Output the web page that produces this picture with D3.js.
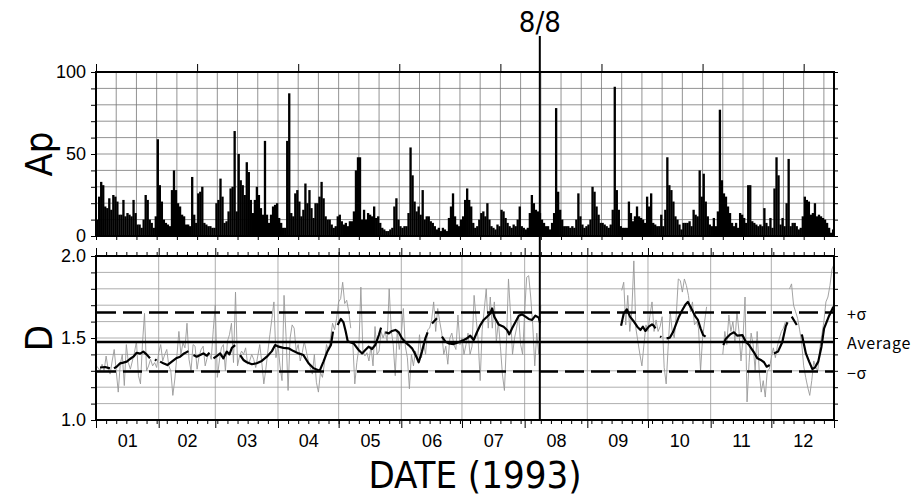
<!DOCTYPE html>
<html>
<head>
<meta charset="utf-8">
<script src="https://cdn.jsdelivr.net/npm/d3@7"></script>
<style>
  body { margin: 0; background: #fff; }
  svg { display: block; }
  .narrow { font-family: "Liberation Sans Narrow", "DejaVu Sans Condensed", "Liberation Sans", sans-serif; }
  .ticklab { font-family: "Liberation Sans", Arial, sans-serif; }
</style>
</head>
<body>
<div id="chart"></div>
<script>
// daily Ap index, 1993 (day 0 = Jan 1)
var apJanMay = [
  10,24,33,31,18,17,23,16,25,24, 21,13,13,22,12,14,13,12,22,14,
  7,7,5,10,25,22,10,8,5,12, 59,31,21,10,8,7,6,28,40,28,
  20,18,13,12,7,7,6,36,13,8, 26,27,30,8,7,6,6,5,5,20,
  22,35,24,8,9,15,29,30,64,15, 50,34,31,25,45,39,22,14,22,30,
  25,17,13,58,13,8,13,18,19,20, 11,8,5,5,58,87,14,12,26,28,
  21,12,16,32,20,28,17,11,20,20, 24,33,23,12,10,10,7,5,6,12,
  13,9,7,8,6,9
]
var apMaySep = [
  9,15,40,48,48,10,16,10,14,13, 12,18,11,12,8,5,4,3,3,4,
  5,18,23,10,6,5,6,6,14,54, 37,21,15,18,13,28,10,12,12,9,
  8,6,4,5,3,5,4,3,11,18, 26,12,7,6,10,12,22,29,22,18,
  8,5,6,10,14,15,12,20,10,6, 5,4,7,6,16,15,11,8,
  6,5,7,6,10,18,6,5,4,5, 14,25,20,16,15,14,10,8,6,6,
  4,8,14,78,27,16,10,6,6,6, 5,6,5,10,26,12,7,5,6,7,
  10,30,27,18,13
]
var apSepDec = [
  8,8,7,6,5,7,16,91,28,16, 6,5,5,5,21,14,9,12,18,12,
  11,10,8,24,18,26,8,7,6,6, 13,6,16,48,31,28,21,12,10,7,
  4,8,8,8,9,6,16,13,12,40, 24,38,21,12,7,6,11,6,15,77,
  34,26,24,18,14,8,6,8,5,14, 13,11,8,31,31,9,8,7,6,7,
  6,17,8,6,11,5,29,48,37,7, 11,6,20,47,6,8,8,6,4,5,
  12,24,22,21,13,14,20,12,13,12, 11,10,8,5,2,4
]
var apValues = apJanMay.concat(apMaySep, apSepDec)

// daily D (thin grey line), runs start at these days
var grayStart = [0, 127, 260, 310, 343]
var grayJanMay = [
  1.33,1.32,1.30,1.34,1.30,1.39,1.31,1.28,1.36,1.43, 1.30,1.17,1.34,1.40,1.21,1.46,1.35,1.31,1.36,1.41,
  1.48,1.27,1.22,1.47,1.65,1.30,1.33,1.37,1.33,1.35, 1.32,1.41,1.46,1.36,1.40,1.43,1.33,1.30,1.15,1.25,
  1.39,1.54,1.40,1.47,1.44,1.59,1.37,1.30,1.46,1.45, 1.31,1.39,1.43,1.45,1.33,1.38,1.41,1.37,1.55,1.70,
  1.26,1.36,1.44,1.46,1.30,1.48,1.52,1.59,1.35,1.78, 1.33,1.39,1.42,1.40,1.44,1.34,1.36,1.40,1.37,1.32,
  1.39,1.46,1.35,1.22,1.31,1.42,1.52,1.62,1.72,1.38, 1.46,1.33,1.24,1.76,1.51,1.18,1.50,1.58,1.56,1.42,
  1.46,1.36,1.41,1.48,1.42,1.36,1.32,1.28,1.40,1.23, 1.17,1.29,1.26,1.35,1.46,1.42,1.50,1.59,1.55,1.62,
  1.72,1.74,1.84,1.71,1.73,1.66,1.56
]
var grayMayAug = [
  1.47,1.22,1.35,1.44,1.81,1.42,1.39,1.41,1.36,1.45, 1.33,1.57,1.40,1.42,1.54,1.50,1.54,1.48,1.80,1.55,
  1.46,1.27,1.55,1.43,1.52,1.68,1.45,1.38,1.19,1.40, 1.33,1.42,1.36,1.52,1.38,1.47,1.40,1.55,1.56,1.61,
  1.72,1.54,1.68,1.60,1.53,1.40,1.45,1.34,1.50,1.53, 1.46,1.43,1.64,1.46,1.50,1.40,1.46,1.53,1.40,1.45,
  1.76,1.62,1.49,1.24,1.55,1.67,1.80,1.56,1.75,1.56, 1.72,1.48,1.60,1.45,1.28,1.18,1.47,1.86,1.65,1.40,
  1.50,1.56,1.64,1.46,1.40,1.66,1.87,1.88,1.75,1.58, 1.33,1.53,1.40,1.70
]
var graySepOct = [
  1.79,1.84,1.58,1.76,1.54,1.66,1.97,1.56,1.48,1.40, 1.33,1.46,1.58,1.54,1.64,1.72,1.54,1.61,1.54,1.57,
  1.63,1.32,1.22,1.45,1.66,1.54,1.50,1.64,1.86,1.85, 1.78,1.86,1.82,1.76,1.66,1.72,1.58,1.60,1.56,1.30,
  1.50,1.60,1.69
]
var grayNov = [
  1.40,1.54,1.46,1.64,1.54,1.60,1.48,1.66,1.54,1.36, 1.50,1.75,1.11,1.35,1.53,1.46,1.30,1.54,1.30,1.17,
  1.24,1.14,1.30,1.31,1.38,1.44,1.38,1.45,1.50,1.54, 1.56,1.60
]
var grayDec = [
  1.80,1.83,1.70,1.66,1.62,1.55,1.47,1.33,1.26,1.20, 1.15,1.24,1.36,1.32,1.30,1.44,1.52,1.60,1.72,1.75,
  1.82,1.92,1.95
]
var grayRuns = [grayJanMay, grayMayAug, graySepOct, grayNov, grayDec]

// running mean of D (thick black line), null = break
var smoothDay = [
  2,4.5,6.9, null,
  8.9,10.2,11.9,13.5,15.2,16.8,18.5,20.1,21.8,23.4,25,26.7, null,
  29.2,29.9, null,
  31.7,33.3,35.3,37.5,39.6,41.6,43.6,45.7, null,
  48.2,49.8,51.5,53.1,54.8,56.1, null,
  58.1,59.7,61.4,63,64.7,66,67.2,68.8, null,
  71.3,72.9,74.6,77.1,79.5,82,84.5,87,88.6,90.3,92.7,95.2,97.7,100.2,102.6,105.1,107.6,110.6,112.5,114.5,116.2,117.2, null,
  119.5,121.1,122.4,123.5,124.5,125.7,127.4,129.9,131.6,133.2,134.8,136.5,138.1,139.9,141, null,
  143.1,144.8,146.4,148.1,149.7,151.3,153,154.6,156.3,157.4,158.8,159.6,161.2,162.9,164, null,
  166.2,168.6, null,
  171.1,172.8,174.4,176.9,179.4,181.9,183.5,185.1,186.8,188.4,190.1,191.7,193.4,195,195.9,197,199.1,201.6,203.3,204.4,205.8,207.4,209.1,210.7,212.4,214,215.7,217.3,219,219.6, null,
  259.7,261,262.6,264.1,265.8,267.7,269.3,270.5,271.7,273.4,275,275.8,276.7, null,
  279,279.6, null,
  282.2,283.8,285.5,286.7,288.3,290,291.6,292.7,294,296.5,297.7,299,300.3,301.5, null,
  310.3,311.4,313.6,315.5,317.2,319.7,321.3,323,325.4,327.1,328.8,330.4,331.7,333.2, null,
  335.3,337.3,339.4,341.1,342, null,
  344.1,346.6, null,
  349.1,351.1,352.7,354.3,355.5,357.2,358.8,360.1,362.6,364.7
]
var smoothD = [
  1.32,1.323,1.315, null,
  1.315,1.325,1.345,1.35,1.356,1.372,1.386,1.41,1.405,1.417,1.40,1.376, null,
  1.37,1.362, null,
  1.356,1.346,1.335,1.356,1.376,1.386,1.406,1.42, null,
  1.396,1.386,1.396,1.406,1.392,1.41, null,
  1.376,1.39,1.406,1.376,1.417,1.40,1.44,1.457, null,
  1.396,1.366,1.352,1.34,1.346,1.36,1.386,1.42,1.457,1.447,1.44,1.437,1.42,1.406,1.396,1.346,1.315,1.30,1.356,1.42,1.457,1.539, null,
  1.579,1.616,1.595,1.54,1.48,1.474,1.467,1.427,1.406,1.427,1.447,1.433,1.457,1.518,1.563, null,
  1.535,1.528,1.543,1.549,1.535,1.498,1.474,1.457,1.437,1.413,1.376,1.352,1.417,1.498,1.535, null,
  1.589,1.62, null,
  1.508,1.478,1.467,1.463,1.474,1.488,1.498,1.514,1.488,1.535,1.579,1.61,1.63,1.65,1.68,1.63,1.583,1.569,1.549,1.522,1.559,1.596,1.636,1.644,1.63,1.616,1.61,1.636,1.624,1.593, null,
  1.575,1.65,1.675,1.63,1.604,1.569,1.549,1.569,1.543,1.569,1.583,1.575,1.559, null,
  1.51,1.505, null,
  1.498,1.502,1.539,1.579,1.63,1.671,1.705,1.72,1.69,1.63,1.61,1.559,1.518,1.508, null,
  1.457,1.494,1.522,1.535,1.514,1.518,1.478,1.457,1.413,1.376,1.366,1.352,1.325,1.335, null,
  1.406,1.417,1.474,1.569,1.596, null,
  1.63,1.579, null,
  1.522,1.406,1.356,1.31,1.319,1.356,1.447,1.559,1.636,1.69
]

var dAverage = 1.475
var dSigma = 0.18
var eventDay = 219.5   // 8/8
var eventLabel = "8/8"

var monthStarts = [0,31,59,90,120,151,181,212,243,273,304,334,365]
var monthLabels = ["01","02","03","04","05","06","07","08","09","10","11","12"]
var apTicks = [0,10,20,30,40,50,60,70,80,90,100]
var dTicks = [1.0,1.1,1.2,1.3,1.4,1.5,1.6,1.7,1.8,1.9,2.0]
var sigmaLabels = ["+σ", "Average", "−σ"]

var width = 911, height = 496
var svg = d3.select("#chart").append("svg")
    .attr("width", width)
    .attr("height", height)

var x = d3.scaleLinear().domain([0, 365]).range([96, 834])
var yAp = d3.scaleLinear().domain([0, 100]).range([236, 72])
var yD = d3.scaleLinear().domain([1, 2]).range([420, 256])

function cleanAxis(g) {
  g.select(".domain").remove()
  g.selectAll(".tick line").attr("stroke", "#000").attr("stroke-width", 1)
  g.selectAll("text").attr("class", "ticklab").attr("font-size", 18).attr("fill", "#000")
}

// ---------- Ap panel ----------
var apPanel = svg.append("g")

apPanel.selectAll(".vgrid").data(d3.range(10, 365, 10))
  .enter().append("line")
    .attr("x1", function(d) { return x(d) }).attr("x2", function(d) { return x(d) })
    .attr("y1", yAp(100)).attr("y2", yAp(0))
    .attr("stroke", "#777").attr("stroke-width", 0.8)
apPanel.selectAll(".hgrid").data(apTicks.slice(1, -1))
  .enter().append("line")
    .attr("x1", x(0)).attr("x2", x(365))
    .attr("y1", function(d) { return yAp(d) }).attr("y2", function(d) { return yAp(d) })
    .attr("stroke", "#777").attr("stroke-width", 0.8)

apPanel.selectAll(".bar").data(apValues)
  .enter().append("rect")
    .attr("x", function(d, i) { return x(i) })
    .attr("width", function(d, i) { return x(i + 1) - x(i) + 0.3 })
    .attr("y", function(d) { return yAp(d) })
    .attr("height", function(d) { return yAp(0) - yAp(d) })
    .attr("fill", "#000")

apPanel.append("g").attr("transform", "translate(" + x(0) + ",0)")
  .call(d3.axisLeft(yAp).tickValues(apTicks).tickSize(5).tickPadding(5)
    .tickFormat(function(d) { return d % 50 === 0 ? d : "" }))
  .call(cleanAxis)
apPanel.append("g").attr("transform", "translate(" + x(365) + ",0)")
  .call(d3.axisRight(yAp).tickValues(apTicks).tickSize(4).tickFormat(""))
  .call(cleanAxis)
apPanel.append("g").attr("transform", "translate(0," + yAp(0) + ")")
  .call(d3.axisBottom(x).tickValues(d3.range(0, 366, 10)).tickSize(4).tickFormat(""))
  .call(cleanAxis)
apPanel.append("g").attr("transform", "translate(0," + yAp(100) + ")")
  .call(d3.axisTop(x).tickValues(d3.range(0, 366, 50)).tickSize(8).tickFormat(""))
  .call(cleanAxis)

apPanel.append("rect")
  .attr("x", x(0)).attr("y", yAp(100))
  .attr("width", x(365) - x(0)).attr("height", yAp(0) - yAp(100))
  .attr("fill", "none").attr("stroke", "#000").attr("stroke-width", 2)

apPanel.append("text").attr("class", "narrow")
  .attr("transform", "translate(52," + yAp(50) + ") rotate(-90)")
  .attr("text-anchor", "middle").attr("font-size", 38)
  .text("Ap")

// ---------- D panel ----------
var dPanel = svg.append("g")

dPanel.selectAll(".hgrid").data(dTicks.slice(1, -1))
  .enter().append("line")
    .attr("x1", x(0)).attr("x2", x(365))
    .attr("y1", function(d) { return yD(d) }).attr("y2", function(d) { return yD(d) })
    .attr("stroke", "#999").attr("stroke-width", 0.8)
dPanel.selectAll(".vgrid").data(monthStarts.slice(1, -1))
  .enter().append("line")
    .attr("x1", function(d) { return x(d) }).attr("x2", function(d) { return x(d) })
    .attr("y1", yD(2)).attr("y2", yD(1))
    .attr("stroke", "#999").attr("stroke-width", 0.8)

var grayLine = d3.line()
  .x(function(d) { return x(d[0]) })
  .y(function(d) { return yD(d[1]) })
grayRuns.forEach(function(run, k) {
  var pts = run.map(function(v, i) { return [grayStart[k] + i, v] })
  dPanel.append("path").datum(pts)
    .attr("d", grayLine)
    .attr("fill", "none").attr("stroke", "#999").attr("stroke-width", 0.9)
})

dPanel.append("line")
  .attr("x1", x(0)).attr("x2", x(365))
  .attr("y1", yD(dAverage)).attr("y2", yD(dAverage))
  .attr("stroke", "#000").attr("stroke-width", 2.5)
dPanel.selectAll(".sig").data([dAverage + dSigma, dAverage - dSigma])
  .enter().append("line")
    .attr("x1", x(0) + 1).attr("x2", x(365))
    .attr("y1", function(d) { return yD(d) }).attr("y2", function(d) { return yD(d) })
    .attr("stroke", "#000").attr("stroke-width", 2.5)
    .attr("stroke-dasharray", "19,7")

var smoothLine = d3.line()
  .defined(function(d, i) { return smoothDay[i] !== null })
  .x(function(d, i) { return x(smoothDay[i]) })
  .y(function(d) { return yD(d) })
dPanel.append("path").datum(smoothD)
  .attr("d", smoothLine)
  .attr("fill", "none").attr("stroke", "#000").attr("stroke-width", 2.2)
  .attr("stroke-linejoin", "round")

dPanel.append("g").attr("transform", "translate(" + x(0) + ",0)")
  .call(d3.axisLeft(yD).tickValues(dTicks).tickSize(5).tickPadding(5)
    .tickFormat(function(d) { return Math.round(d * 10) % 5 === 0 ? d3.format(".1f")(d) : "" }))
  .call(cleanAxis)
dPanel.append("g").attr("transform", "translate(" + x(365) + ",0)")
  .call(d3.axisRight(yD).tickValues(dTicks).tickSize(4).tickFormat(""))
  .call(cleanAxis)
dPanel.append("g").attr("transform", "translate(0," + yD(2) + ")")
  .call(d3.axisTop(x).tickValues(d3.range(0, 366, 5)).tickSize(4).tickFormat(""))
  .call(cleanAxis)
dPanel.append("g").attr("transform", "translate(0," + yD(2) + ")")
  .call(d3.axisTop(x).tickValues(monthStarts).tickSize(8).tickFormat(""))
  .call(cleanAxis)
dPanel.append("g").attr("transform", "translate(0," + yD(1) + ")")
  .call(d3.axisBottom(x).tickValues(d3.range(0, 366, 5)).tickSize(4).tickFormat(""))
  .call(cleanAxis)
dPanel.append("g").attr("transform", "translate(0," + yD(1) + ")")
  .call(d3.axisBottom(x).tickValues(monthStarts).tickSize(8).tickFormat(""))
  .call(cleanAxis)

var monthMid = monthStarts.slice(0, -1).map(function(d, i) { return (d + monthStarts[i + 1]) / 2 })
var monthAxis = dPanel.append("g").attr("transform", "translate(0," + yD(1) + ")")
  .call(d3.axisBottom(x).tickValues(monthMid).tickSize(0)
    .tickFormat(function(d, i) { return monthLabels[i] }))
  .call(cleanAxis)
monthAxis.selectAll("text").attr("y", 27).attr("dy", null)

dPanel.append("rect")
  .attr("x", x(0)).attr("y", yD(2))
  .attr("width", x(365) - x(0)).attr("height", yD(1) - yD(2))
  .attr("fill", "none").attr("stroke", "#000").attr("stroke-width", 2)

dPanel.append("text").attr("class", "narrow")
  .attr("transform", "translate(52," + yD(1.5) + ") rotate(-90)")
  .attr("text-anchor", "middle").attr("font-size", 38)
  .text("D")

dPanel.selectAll(".siglab").data([dAverage + dSigma, dAverage, dAverage - dSigma])
  .enter().append("text")
    .attr("x", x(365) + 13)
    .attr("y", function(d) { return yD(d) + 7 })
    .attr("font-family", "'Noto Sans CJK JP', 'DejaVu Sans', sans-serif")
    .attr("font-size", 16)
    .attr("letter-spacing", 0.7)
    .text(function(d, i) { return sigmaLabels[i] })

svg.append("text").attr("class", "narrow")
  .attr("x", 475).attr("y", 488)
  .attr("text-anchor", "middle").attr("font-size", 38)
  .text("DATE (1993)")

// 8/8 marker
svg.append("line")
  .attr("x1", x(eventDay)).attr("x2", x(eventDay))
  .attr("y1", 36).attr("y2", yD(1))
  .attr("stroke", "#000").attr("stroke-width", 2)
svg.append("text").attr("class", "narrow")
  .attr("x", x(eventDay)).attr("y", 32)
  .attr("text-anchor", "middle").attr("font-size", 29)
  .text(eventLabel)
</script>
</body>
</html>
